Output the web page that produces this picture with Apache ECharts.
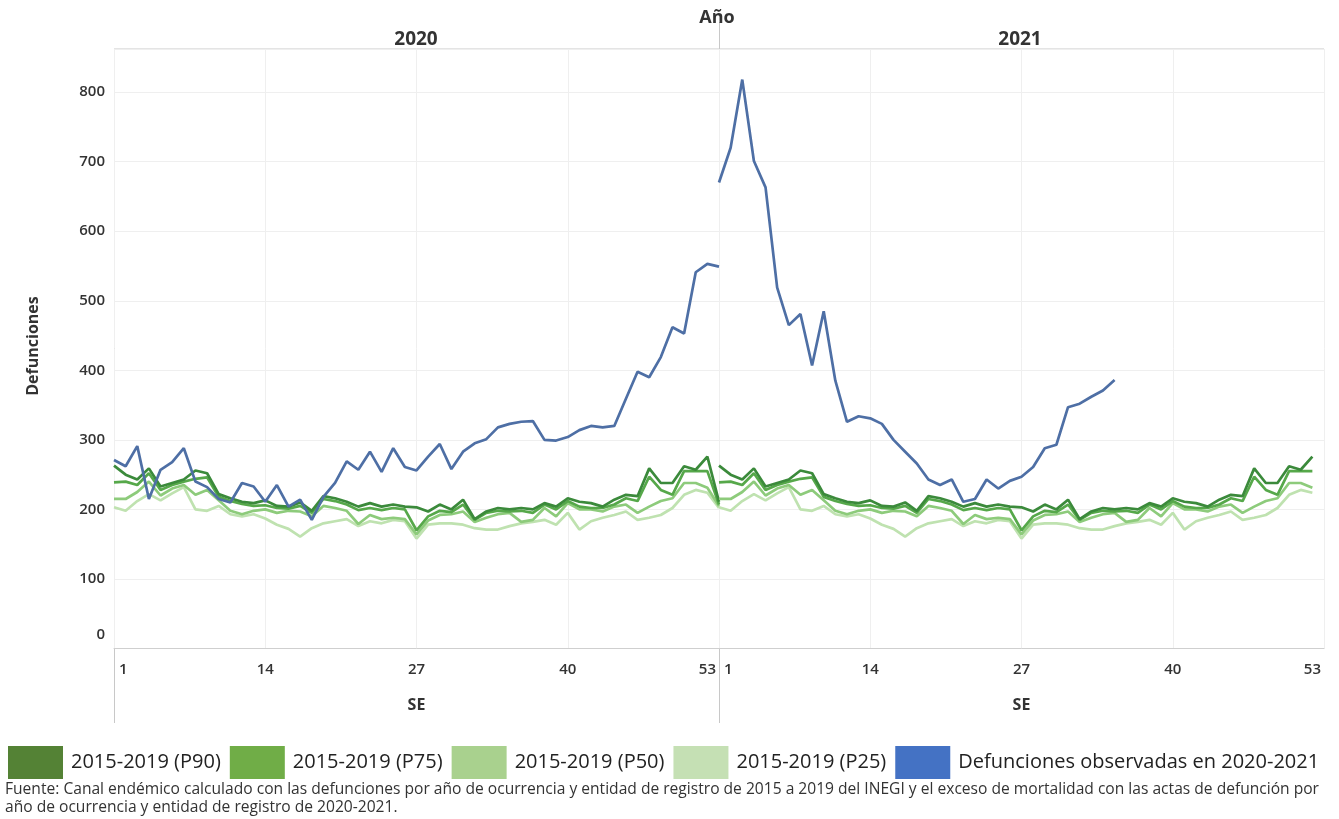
<!DOCTYPE html>
<html>
<head>
<meta charset="utf-8">
<script src="https://cdn.jsdelivr.net/npm/echarts@6/dist/echarts.min.js"></script>
<style>
  html, body { margin: 0; padding: 0; background: #fff; }
  #chart { width: 1339px; height: 819px; }
</style>
</head>
<body>
<div id="chart"></div>
<script>
'use strict';

// semanas epidemiologicas (SE)
var weeks = [1, 2, 3, 4, 5, 6, 7, 8, 9, 10, 11, 12, 13, 14, 15, 16, 17, 18, 19, 20,
    21, 22, 23, 24, 25, 26, 27, 28, 29, 30, 31, 32, 33, 34, 35, 36, 37, 38, 39, 40,
    41, 42, 43, 44, 45, 46, 47, 48, 49, 50, 51, 52, 53];
var years = ['2020', '2021'];

// canal endemico 2015-2019 (igual para los dos paneles)
var p90 = [263, 250, 243, 259, 233, 238, 243, 256, 252, 222, 216, 211, 209, 213, 205, 204, 210, 198, 219, 216,
    211, 204, 209, 204, 207, 204, 203, 197, 207, 200, 214, 186, 197, 202, 200, 202, 200, 209, 204, 216,
    211, 209, 204, 214, 221, 219, 259, 238, 238, 262, 257, 276, 211];
var p75 = [239, 240, 235, 252, 228, 235, 240, 244, 246, 218, 212, 208, 205, 206, 202, 201, 205, 195, 215, 212,
    207, 199, 202, 199, 202, 200, 170, 190, 198, 196, 207, 185, 195, 198, 197, 198, 195, 207, 200, 212,
    204, 202, 202, 207, 216, 212, 247, 228, 221, 255, 255, 255, 207];
var p50 = [215, 215, 225, 240, 220, 230, 235, 221, 228, 213, 198, 193, 198, 200, 195, 198, 197, 190, 205, 202,
    198, 179, 192, 186, 188, 186, 164, 184, 192, 193, 197, 182, 188, 193, 195, 182, 185, 202, 190, 209,
    200, 200, 197, 204, 207, 195, 204, 212, 216, 238, 238, 231, 205];
var p25 = [203, 198, 212, 222, 213, 223, 232, 200, 198, 205, 193, 190, 193, 187, 178, 172, 161, 173, 180, 183,
    186, 176, 183, 180, 185, 183, 158, 178, 180, 180, 178, 173, 171, 171, 176, 180, 182, 185, 178, 195,
    171, 183, 188, 192, 197, 185, 188, 192, 202, 221, 228, 224, 202];

// defunciones observadas
var obs2020 = [271, 262, 291, 215, 257, 268, 288, 240, 232, 215, 210, 238, 233, 211, 235, 204, 214, 185, 218, 238,
    269, 257, 283, 254, 288, 261, 256, 276, 294, 258, 283, 295, 301, 318, 323, 326, 327, 300, 299, 304,
    314, 320, 318, 320, 359, 398, 390, 419, 462, 453, 541, 553, 549];
var obs2021 = [670, 720, 818, 701, 663, 519, 465, 481, 407, 485, 385, 326, 334, 331, 323, 300, 283, 266, 243, 235,
    243, 211, 215, 243, 230, 241, 247, 261, 288, 293, 347, 352, 362, 371, 386];

var yTicks = [0, 100, 200, 300, 400, 500, 600, 700, 800];

var names = ['2015-2019 (P90)', '2015-2019 (P75)', '2015-2019 (P50)', '2015-2019 (P25)', 'Defunciones observadas en 2020-2021'];
var legendColors = ['#548235', '#70ad47', '#a9d18e', '#c5e0b4', '#4472c4'];
var lineColors = ['#3b8a3b', '#56a84a', '#8dcb7b', '#bfe2b0', '#4e6fa5'];

var FONT = '"Open Sans", "DejaVu Sans", sans-serif';
var TXT = '#333';

var chart = echarts.init(document.getElementById('chart'));

var panels = [
    { green: [p90, p75, p50, p25], obs: obs2020 },
    { green: [p90.slice(0, 52), p75.slice(0, 52), p50.slice(0, 52), p25.slice(0, 52)], obs: obs2021 }
];

var labelStyle = { fontSize: 15, color: TXT, fontFamily: FONT, fontWeight: 600 };

var grids = [], xAxes = [], yAxes = [], series = [];
for (var i = 0; i < panels.length; i ++) {
    grids.push({ left: 114 + i * 605, top: 49, width: 605, height: 599.5 });
    xAxes.push({
        type: 'category', gridIndex: i, data: weeks, boundaryGap: false,
        name: 'SE', nameLocation: 'middle', nameGap: 49,
        nameTextStyle: { fontSize: 16, fontWeight: 'bold', color: TXT, fontFamily: FONT },
        axisLine: { show: true, lineStyle: { color: '#cfcfcf', width: 1 } },
        axisTick: { show: false },
        axisLabel: {
            interval: 12, margin: 14, fontSize: 15, color: TXT, fontFamily: FONT, fontWeight: 600,
            alignMinLabel: 'left', alignMaxLabel: 'right',
            // separar "53" y "1" junto al divisor de paneles
            formatter: function (v) {
                if (v === '1') return '{l|1}';
                if (v === '53') return '{r|53}';
                return v;
            },
            rich: {
                l: Object.assign({ padding: [0, 0, 0, 5] }, labelStyle),
                r: Object.assign({ padding: [0, 3, 0, 0] }, labelStyle)
            }
        },
        splitLine: { show: true, interval: 12, lineStyle: { color: '#efefef', width: 1 } }
    });
    yAxes.push({
        type: 'value', gridIndex: i, min: 0, max: 862, interval: 100,
        axisLine: { show: false }, axisTick: { show: false },
        axisLabel: {
            show: i === 0, margin: 9, fontSize: 15, color: TXT, fontFamily: FONT, fontWeight: 600,
            showMaxLabel: false,
            formatter: function (v) {
                if (yTicks.indexOf(v) < 0) return '';
                return v === 0 ? '{z|0}' : String(v);
            },
            rich: { z: Object.assign({ padding: [0, 0, 27, 0] }, labelStyle) }
        },
        splitLine: { show: true, lineStyle: { color: '#efefef', width: 1 } }
    });
    // P25 primero para que las lineas oscuras queden encima
    for (var k = 3; k >= 0; k --) {
        series.push({
            name: names[k], type: 'line', xAxisIndex: i, yAxisIndex: i,
            data: panels[i].green[k], showSymbol: false, symbol: 'none',
            color: lineColors[k],
            lineStyle: { color: lineColors[k], width: 2.7 },
            emphasis: { disabled: true }, silent: true
        });
    }
    series.push({
        name: names[4], type: 'line', xAxisIndex: i, yAxisIndex: i,
        data: panels[i].obs, showSymbol: false, symbol: 'none',
        color: lineColors[4],
        lineStyle: { color: lineColors[4], width: 2.7 },
        emphasis: { disabled: true }, silent: true
    });
}

var legendData = [];
for (var j = 0; j < names.length; j ++) {
    legendData.push({ name: names[j], itemStyle: { color: legendColors[j], borderWidth: 0 } });
}

var option = {
    backgroundColor: '#fff',
    animation: false,
    textStyle: { fontFamily: FONT },
    grid: grids,
    xAxis: xAxes,
    yAxis: yAxes,
    series: series,
    legend: {
        data: legendData, left: 8, top: 746, width: 1331, padding: 0, icon: 'rect',
        itemWidth: 55, itemHeight: 33, itemGap: 9,
        selectedMode: false,
        itemStyle: { borderWidth: 0 },
        textStyle: { fontSize: 20, color: '#222', fontFamily: FONT, padding: [0, 0, 0, 3] }
    },
    graphic: [
        // marco de paneles
        { type: 'line', shape: { x1: 114, y1: 49, x2: 1324, y2: 49 }, style: { stroke: '#c8c8c8', lineWidth: 1 }, silent: true },
        { type: 'line', shape: { x1: 114.5, y1: 49, x2: 114.5, y2: 723 }, style: { stroke: '#c8c8c8', lineWidth: 1 }, silent: true },
        { type: 'line', shape: { x1: 719.5, y1: 22, x2: 719.5, y2: 723 }, style: { stroke: '#c8c8c8', lineWidth: 1 }, silent: true },
        // encabezados
        { type: 'text', x: 717, y: 18, style: { text: 'Año', fontSize: 18, fontWeight: 'bold', fill: TXT, fontFamily: FONT, align: 'center', verticalAlign: 'middle' }, silent: true },
        { type: 'text', x: 416, y: 40, style: { text: years[0], fontSize: 19, fontWeight: 'bold', fill: TXT, fontFamily: FONT, align: 'center', verticalAlign: 'middle' }, silent: true },
        { type: 'text', x: 1020, y: 40, style: { text: years[1], fontSize: 19, fontWeight: 'bold', fill: TXT, fontFamily: FONT, align: 'center', verticalAlign: 'middle' }, silent: true },
        { type: 'text', x: 33, y: 346, rotation: Math.PI / 2, style: { text: 'Defunciones', fontSize: 16, fontWeight: 'bold', fill: TXT, fontFamily: FONT, align: 'center', verticalAlign: 'middle' }, silent: true },
        // fuente
        { type: 'text', left: 5, top: 781, style: {
            text: 'Fuente: Canal endémico calculado con las defunciones por año de ocurrencia y entidad de registro de 2015 a 2019 del INEGI y el exceso de mortalidad con las actas de defunción por\naño de ocurrencia y entidad de registro de 2020-2021.',
            fontSize: 15.6, lineHeight: 18, fill: '#333', fontFamily: FONT }, silent: true }
    ]
};

chart.setOption(option);
</script>
</body>
</html>
